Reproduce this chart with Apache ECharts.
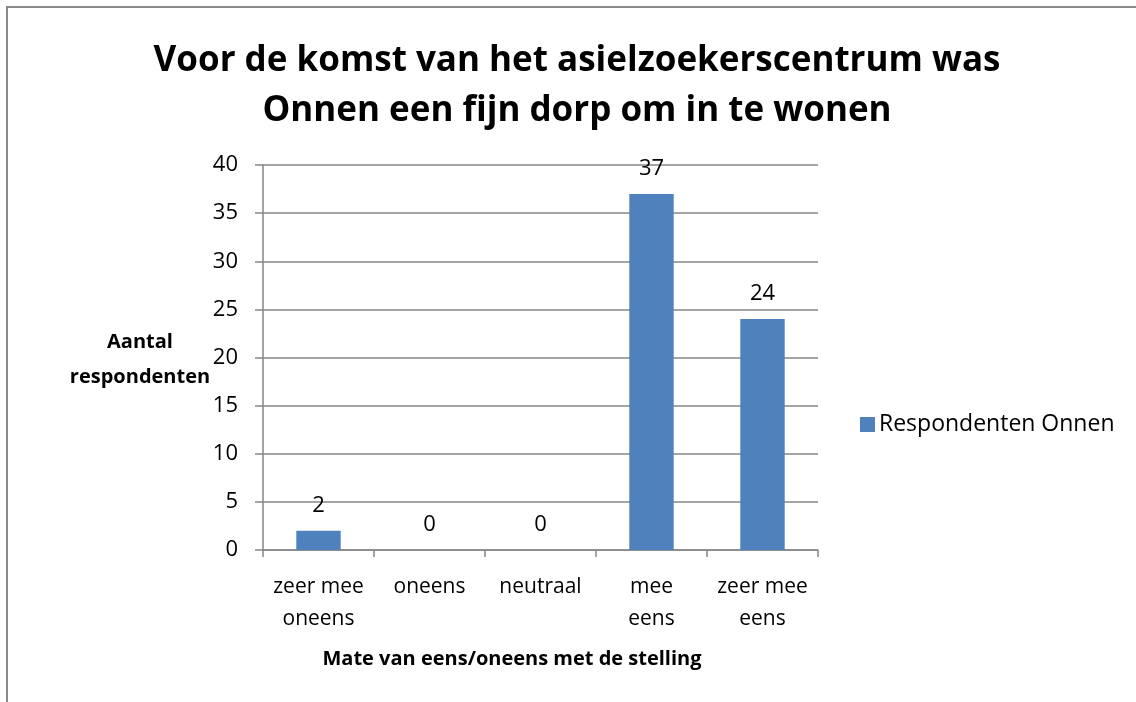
<!DOCTYPE html>
<html>
<head>
<meta charset="utf-8">
<script src="https://cdn.jsdelivr.net/npm/echarts@6/dist/echarts.min.js"></script>
<style>
html, body { margin: 0; padding: 0; background: #fff; }
#chart { width: 1136px; height: 702px; position: relative; }
#frame { position: absolute; left: 6px; top: 6px; right: 0; bottom: 0; border-left: 2px solid #8a8a8a; border-top: 2px solid #8a8a8a; pointer-events: none; }
</style>
</head>
<body>
<div id="chart"></div>
<div id="frame"></div>
<script>
// data
var categories = ['zeer mee\noneens', 'oneens', 'neutraal', 'mee\neens', 'zeer mee\neens'];
var values = [2, 0, 0, 37, 24];
var seriesName = 'Respondenten Onnen';
var titleLines = ['Voor de komst van het asielzoekerscentrum was', 'Onnen een fijn dorp om in te wonen'];
var xTitle = 'Mate van eens/oneens met de stelling';
var yTitle = 'Aantal\nrespondenten';

var font = '"Open Sans", sans-serif';
var dom = document.getElementById('chart');
var myChart = echarts.init(dom);

var option = {
    animation: false,
    title: {
        text: titleLines.join('\n'),
        left: 572,
        textAlign: 'center',
        top: 31,
        textStyle: {
            fontFamily: font,
            fontWeight: 'bold',
            fontSize: 35,
            lineHeight: 50,
            color: '#000'
        }
    },
    legend: {
        left: 855,
        top: 408,
        icon: 'rect',
        itemWidth: 15,
        itemHeight: 15,
        itemGap: 8,
        textStyle: { fontFamily: font, fontSize: 23, color: '#000', padding: [0, 0, 0, -1] },
        data: [seriesName]
    },
    grid: {
        left: 263,
        right: 318,
        top: 165,
        bottom: 152
    },
    xAxis: {
        type: 'category',
        data: categories,
        axisLine: { lineStyle: { color: '#868686', width: 1.5 } },
        axisTick: { show: true, length: 7, lineStyle: { color: '#868686', width: 1.5 } },
        axisLabel: {
            fontFamily: font,
            fontSize: 21,
            color: '#000',
            lineHeight: 32,
            margin: 21,
            interval: 0
        }
    },
    yAxis: {
        type: 'value',
        min: 0,
        max: 40,
        interval: 5,
        axisLine: { show: true, lineStyle: { color: '#868686', width: 1.5 } },
        axisTick: { show: true, length: 8, lineStyle: { color: '#868686', width: 1.5 } },
        splitLine: { lineStyle: { color: '#868686', width: 1.5 } },
        axisLabel: {
            fontFamily: font,
            fontSize: 22,
            color: '#000',
            margin: 25
        }
    },
    graphic: [
        {
            type: 'text',
            style: {
                text: xTitle,
                x: 512,
                y: 659,
                align: 'center',
                verticalAlign: 'middle',
                font: 'bold 20px ' + font,
                fill: '#000'
            }
        },
        {
            type: 'text',
            style: {
                text: yTitle,
                x: 140,
                y: 360,
                align: 'center',
                verticalAlign: 'middle',
                font: 'bold 20px ' + font,
                lineHeight: 35,
                fill: '#000'
            }
        }
    ],
    series: [
        {
            name: seriesName,
            type: 'bar',
            data: values,
            barWidth: '40%',
            itemStyle: { color: '#4F81BD' },
            label: {
                show: true,
                position: 'top',
                distance: 14,
                fontFamily: font,
                fontSize: 22,
                color: '#000'
            }
        }
    ]
};

myChart.setOption(option);
</script>
</body>
</html>
